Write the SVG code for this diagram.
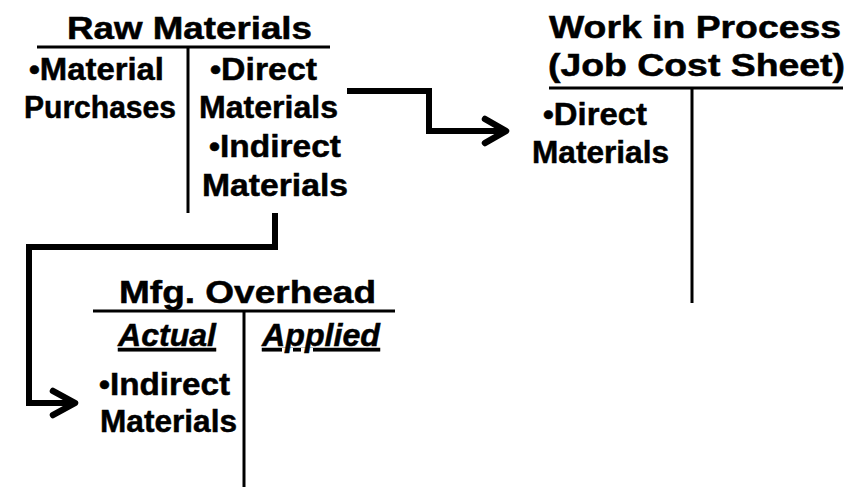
<svg xmlns="http://www.w3.org/2000/svg" width="865" height="489" viewBox="0 0 865 489">
  <style>
    text { font-family: "Liberation Sans", Arial, sans-serif; font-weight: bold; fill: #000; stroke: #000; stroke-width: 0.5; }
    .title { font-size: 31px; }
    .body { font-size: 32px; }
    .dot { font-size: 30px; }
    .it { font-style: italic; text-decoration: underline; }
    .rule { stroke: #000; stroke-width: 3; fill: none; }
    .flow { stroke: #000; stroke-width: 6; fill: none; stroke-linejoin: miter; }
    .head { stroke: #000; stroke-width: 6.5; fill: none; stroke-linecap: round; stroke-linejoin: round; }
  </style>
  <rect width="865" height="489" fill="#fff"/>

  <!-- Raw Materials T-account -->
  <g id="raw-materials">
    <text class="title" x="67" y="39" textLength="245" lengthAdjust="spacingAndGlyphs">Raw Materials</text>
    <line class="rule" x1="37" y1="47" x2="330" y2="47"/>
    <line class="rule" x1="188" y1="47" x2="188" y2="213"/>
    <text class="body" x="29" y="80" textLength="135" lengthAdjust="spacingAndGlyphs"><tspan class="dot">•</tspan>Material</text>
    <text class="body" x="24" y="118" textLength="152" lengthAdjust="spacingAndGlyphs">Purchases</text>
    <text class="body" x="210" y="80" textLength="107" lengthAdjust="spacingAndGlyphs"><tspan class="dot">•</tspan>Direct</text>
    <text class="body" x="199" y="118" textLength="139" lengthAdjust="spacingAndGlyphs">Materials</text>
    <text class="body" x="209" y="157" textLength="132" lengthAdjust="spacingAndGlyphs"><tspan class="dot">•</tspan>Indirect</text>
    <text class="body" x="202" y="196" textLength="146" lengthAdjust="spacingAndGlyphs">Materials</text>
  </g>

  <!-- Work in Process T-account -->
  <g id="work-in-process">
    <text class="title" x="549" y="38" textLength="292" lengthAdjust="spacingAndGlyphs">Work in Process</text>
    <text class="title" x="548" y="76" textLength="297" lengthAdjust="spacingAndGlyphs">(Job Cost Sheet)</text>
    <line class="rule" x1="549" y1="88" x2="843" y2="88"/>
    <line class="rule" x1="692" y1="88" x2="692" y2="303"/>
    <text class="body" x="543" y="125" textLength="104" lengthAdjust="spacingAndGlyphs"><tspan class="dot">•</tspan>Direct</text>
    <text class="body" x="532" y="163" textLength="137" lengthAdjust="spacingAndGlyphs">Materials</text>
  </g>

  <!-- Manufacturing Overhead T-account -->
  <g id="mfg-overhead">
    <text class="title" x="119" y="303" textLength="257" lengthAdjust="spacingAndGlyphs">Mfg. Overhead</text>
    <line class="rule" x1="93" y1="311" x2="395" y2="311"/>
    <line class="rule" x1="244" y1="311" x2="244" y2="487"/>
    <text class="body it" x="118" y="346" textLength="98" lengthAdjust="spacingAndGlyphs">Actual</text>
    <text class="body it" x="262" y="346" textLength="118" lengthAdjust="spacingAndGlyphs">Applied</text>
    <text class="body" x="99" y="395" textLength="131" lengthAdjust="spacingAndGlyphs"><tspan class="dot">•</tspan>Indirect</text>
    <text class="body" x="100" y="432" textLength="137" lengthAdjust="spacingAndGlyphs">Materials</text>
  </g>

  <!-- Flow connectors -->
  <g id="connectors">
    <path class="flow" d="M347,91 H429 V131 H504"/>
    <path class="head" d="M485,119 L506,131 L485,143"/>
    <path class="flow" d="M275,213 V247 H29 V403 H73"/>
    <path class="head" d="M53,391 L75,403 L53,415"/>
  </g>
</svg>
